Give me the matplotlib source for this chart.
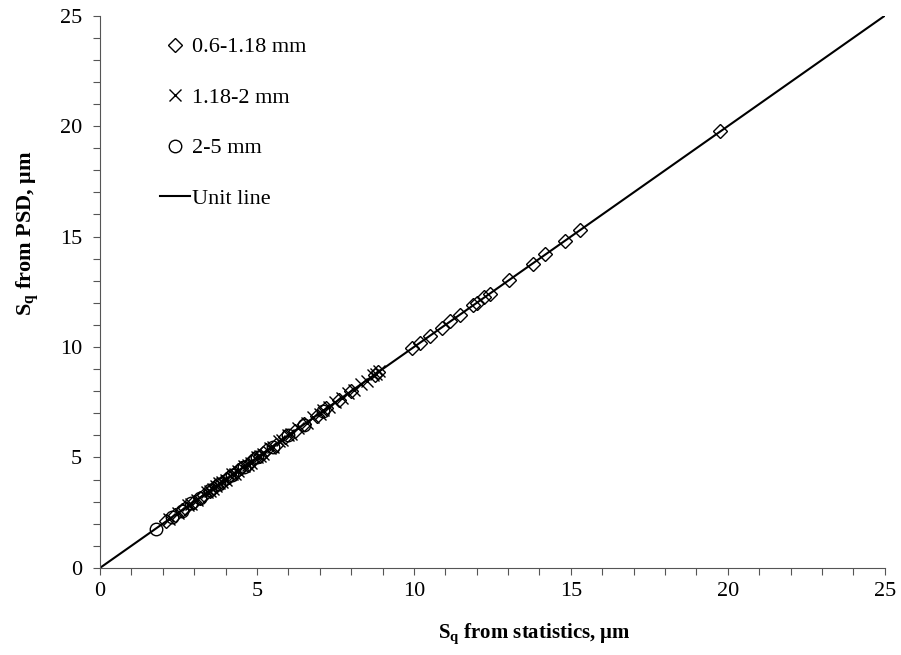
import numpy as np
import matplotlib
matplotlib.use("Agg")
import matplotlib.pyplot as plt

plt.rcParams['font.family'] = ['Liberation Serif', 'DejaVu Serif']
plt.rcParams['mathtext.fontset'] = 'custom'
plt.rcParams['mathtext.rm'] = 'Liberation Serif'
plt.rcParams['mathtext.bf'] = 'Liberation Serif:bold'

# 0.6-1.18 mm
x_small = [2.1, 2.4, 2.6, 2.7, 3.0, 3.2, 3.3, 3.5, 3.6, 3.7, 3.9, 4.0, 4.1, 4.3, 4.4, 4.5, 4.7,
           4.8, 4.9, 5.1, 5.2, 5.3, 5.6, 5.9, 6.2, 6.5, 6.9, 7.2, 7.6, 8.0, 8.75, 8.85,
           9.94, 10.2, 10.5, 10.9, 11.15, 11.46, 11.88, 12.0, 12.23, 12.42,
           13.03, 13.8, 14.17, 14.8, 15.29, 19.75]
y_small = [2.12, 2.38, 2.62, 2.73, 2.98, 3.18, 3.32, 3.47, 3.63, 3.72, 3.88, 4.03, 4.13, 4.28, 4.42, 4.53, 4.68,
           4.83, 4.92, 5.08, 5.22, 5.33, 5.58, 5.93, 6.18, 6.52, 6.88, 7.22, 7.58, 8.02, 8.73, 8.88,
           9.96, 10.18, 10.52, 10.88, 11.17, 11.44, 11.9, 11.98, 12.25, 12.4,
           13.05, 13.78, 14.19, 14.82, 15.31, 19.77]

# 1.18-2 mm
x_mid = [2.2, 2.5, 2.8, 2.9, 3.1, 3.4, 3.5, 3.6, 3.7, 3.8, 3.9, 4.0, 4.2, 4.3, 4.4, 4.6, 4.7, 4.8,
         5.0, 5.1, 5.2, 5.4, 5.5, 5.7, 5.8, 6.0, 6.1, 6.3, 6.6, 6.8, 7.0, 7.1, 7.3, 7.5, 7.7,
         7.9, 8.1, 8.3, 8.5, 8.7, 8.8, 8.9]
y_mid = [2.23, 2.47, 2.83, 2.87, 3.07, 3.43, 3.47, 3.57, 3.73, 3.83, 3.87, 3.97, 4.23, 4.27, 4.37, 4.63, 4.67, 4.77,
         5.03, 5.07, 5.17, 5.43, 5.47, 5.73, 5.77, 6.03, 6.07, 6.33, 6.57, 6.83, 6.97, 7.13, 7.27, 7.53, 7.67,
         7.93, 8.07, 8.33, 8.47, 8.73, 8.77, 8.93]

# 2-5 mm
x_large = [1.78, 2.3, 2.6, 2.9, 3.2, 3.5, 3.8, 4.2, 4.6, 5.0, 5.5, 6.0, 6.5, 7.1]
y_large = [1.76, 2.32, 2.57, 2.93, 3.18, 3.53, 3.78, 4.22, 4.58, 5.03, 5.48, 6.02, 6.48, 7.12]

unit = [0, 25]

fig = plt.figure(figsize=(9.01, 6.55), dpi=100)
ax = fig.add_axes([0.111, 0.133, 0.871, 0.843])

ax.plot(x_small, y_small, linestyle='none', marker='D', markersize=7.2,
        markerfacecolor='none', markeredgecolor='black', markeredgewidth=1.0, label='0.6-1.18 mm')
ax.plot(x_mid, y_mid, linestyle='none', marker='x', markersize=9,
        color='black', markeredgewidth=1.0, label='1.18-2 mm')
ax.plot(x_large, y_large, linestyle='none', marker='o', markersize=9,
        markerfacecolor='none', markeredgecolor='black', markeredgewidth=1.0, label='2-5 mm')
ax.plot(unit, unit, color='black', linewidth=1.5, label='Unit line')

ax.set_xlim(0, 25)
ax.set_ylim(0, 25)
ax.set_xticks(np.arange(0, 26, 5))
ax.set_yticks(np.arange(0, 26, 5))
ax.set_xticks(np.arange(0, 26, 1), minor=True)
ax.set_yticks(np.arange(0, 26, 1), minor=True)
ax.tick_params(which='both', direction='out', length=5, width=0.8, color='#555555', labelsize=16)
ax.tick_params(axis='x', pad=5)
ax.tick_params(axis='y', pad=8)
ax.spines['top'].set_visible(False)
ax.spines['right'].set_visible(False)
ax.spines['left'].set_color('#555555')
ax.spines['bottom'].set_color('#555555')

ax.set_xlabel(r'$\mathbf{S_q}$ from statistics, μm', fontsize=15, fontweight='bold', va='center')
ax.set_ylabel(r'$\mathbf{S_q}$ from PSD, μm', fontsize=16, fontweight='bold', va='center')
ax.xaxis.set_label_coords(0.554, -0.119)
ax.yaxis.set_label_coords(-0.092, 0.607)

ax.legend(loc='upper left', frameon=False, fontsize=16, labelspacing=1.35,
          handlelength=1.35, handletextpad=0.1, borderaxespad=0.0,
          bbox_to_anchor=(0.065, 0.978))

fig.savefig('out.png', dpi=100)
